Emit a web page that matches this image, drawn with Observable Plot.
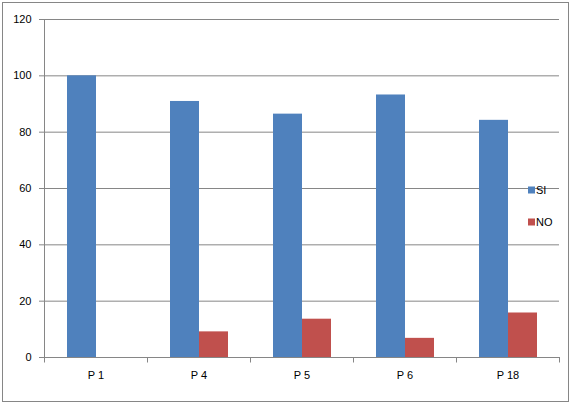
<!DOCTYPE html>
<html>
<head>
<meta charset="utf-8">
<script src="https://cdn.jsdelivr.net/npm/d3@7"></script>
<script src="https://cdn.jsdelivr.net/npm/@observablehq/plot@0.6"></script>
<style>
  html, body { margin: 0; padding: 0; background: #fff; }
</style>
</head>
<body>
<div id="chart"></div>
<script>
const categories = ["P 1", "P 4", "P 5", "P 6", "P 18"];
const series = ["SI", "NO"];
const siValues = [100, 90.9, 86.4, 93.2, 84.2];
const noValues = [0, 9.1, 13.6, 6.8, 15.8];
const yTicks = [0, 20, 40, 60, 80, 100, 120];
const colors = ["#4F81BD", "#C0504D"];

const data = categories.flatMap((c, i) => [
  {cat: c, series: "SI", value: siValues[i]},
  {cat: c, series: "NO", value: noValues[i]}
]);

const gray = "#868686";
const W = 572, H = 404;

const chart = Plot.plot({
  width: W,
  height: H,
  marginLeft: 43,
  marginRight: 13,
  marginTop: 19,
  marginBottom: 47,
  style: {fontFamily: "'Liberation Sans', Arial, sans-serif", fontSize: "11px", color: "#000", background: "#fff"},
  fx: {domain: categories, padding: 0, label: null},
  x: {domain: series, paddingInner: 0, paddingOuter: 0.74, axis: null},
  y: {domain: [0, 120], label: null},
  color: {domain: series, range: colors},
  marks: [
    Plot.gridY(yTicks, {stroke: gray, strokeOpacity: 1}),
    Plot.barY(data, {fx: "cat", x: "series", y: "value", fill: "series"}),
    Plot.ruleY([0], {stroke: gray}),
    Plot.axisY(yTicks, {tickSize: 5, stroke: gray, text: null, label: null}),
    Plot.axisY(yTicks, {tickSize: 0, tickPadding: 0, dx: -13, label: null}),
    Plot.axisFx({anchor: "bottom", tickSize: 0, tickPadding: 14, label: null})
  ]
});

document.getElementById("chart").appendChild(chart);

// extra axis details drawn from the library's scales
const svg = d3.select(chart);
const fx = chart.scale("fx");
const y = chart.scale("y");
const y0 = y.apply(0), yTop = y.apply(120);
const left = fx.apply(categories[0]);
const bounds = categories.map(c => fx.apply(c)).concat([fx.apply(categories[categories.length - 1]) + fx.bandwidth]);

// left axis line
svg.append("line")
  .attr("x1", left + 0.5).attr("x2", left + 0.5)
  .attr("y1", yTop).attr("y2", y0 + 0.5)
  .attr("stroke", gray);

// category boundary ticks
svg.selectAll("line.bt").data(bounds).join("line")
  .attr("class", "bt")
  .attr("x1", d => Math.round(d) + 0.5).attr("x2", d => Math.round(d) + 0.5)
  .attr("y1", y0).attr("y2", y0 + 5.5)
  .attr("stroke", gray);

// legend (overlaid on plot area, as in reference)
const legend = svg.append("g")
  .attr("font-family", "'Liberation Sans', Arial, sans-serif")
  .attr("font-size", 11)
  .attr("text-anchor", "start");
series.forEach((s, i) => {
  const ly = y.apply(60) + 2 + i * 32;
  legend.append("rect").attr("x", 528).attr("y", ly - 3.5).attr("width", 7).attr("height", 7).attr("fill", colors[i]);
  legend.append("text").attr("x", 536).attr("y", ly).attr("dy", "0.35em").attr("fill", "#000").text(s);
});

// outer border
svg.append("rect")
  .attr("x", 2.5).attr("y", 2.5).attr("width", 566).attr("height", 399)
  .attr("fill", "none").attr("stroke", gray);
</script>
</body>
</html>
